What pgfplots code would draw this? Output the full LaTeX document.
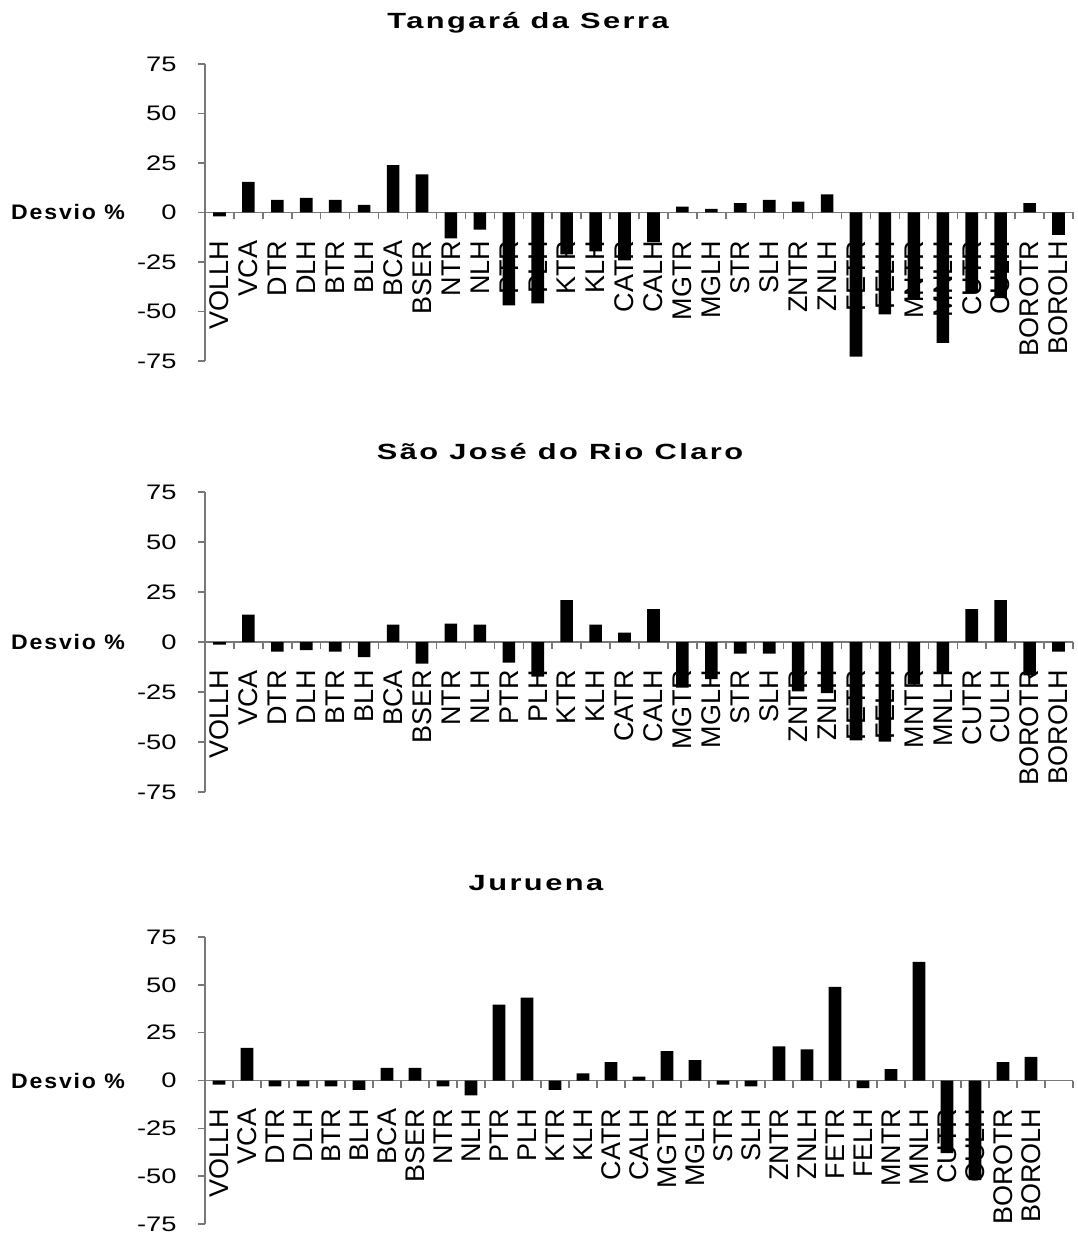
\documentclass[border=0pt]{standalone}
\usepackage{fontspec}
\setmainfont{Liberation Sans}
\newfontfamily\ttlfont[LetterSpace=8]{Liberation Sans}
\newfontfamily\dvfont[LetterSpace=8]{Liberation Sans}
\usepackage{graphicx}
\usepackage{pgfplots}
\usepackage{pgfplotstable}
\pgfplotsset{compat=1.18}

\pgfplotstableread{
i  ts     sj     ju
0  -2.0   -1.3   -2.1
1  15.5   13.7   17.0
2  6.4    -4.8   -3.1
3  7.4    -4.0   -3.1
4  6.4    -4.8   -3.1
5  3.9    -7.5   -4.9
6  23.9   8.7    6.6
7  19.3   -10.8  6.6
8  -13.1  9.2    -3.1
9  -8.7   8.7    -7.7
10 -46.9  -10.3  39.7
11 -45.9  -17.3  43.3
12 -21.2  21.0   -4.9
13 -19.7  8.7    3.8
14 -24.2  4.7    9.6
15 -15.0  16.5   2.1
16 3.0    -22.8  15.3
17 1.8    -18.5  10.6
18 4.7    -5.8   -2.1
19 6.4    -5.8   -3.1
20 5.5    -24.7  17.9
21 9.2    -25.5  16.3
22 -72.8  -49.2  49.0
23 -51.4  -49.8  -4.0
24 -43.2  -21.0  5.9
25 -65.9  -15.8  62.0
26 -40.3  16.5   -37.9
27 -43.2  21.0   -52.0
28 4.7    -16.7  9.6
29 -11.3  -4.8   12.3
}\data

\newcommand\sx[1]{\scalebox{1.3}[1]{#1}}
\definecolor{axgray}{RGB}{120,120,120}

\pgfplotsset{
  panel/.style={
    scale only axis, width=434pt, set layers,
    axis y line=left, axis x line=middle,
    axis line style={-, draw=axgray, line width=0.75pt},
    ymin=-75, ymax=75, enlarge y limits=false,
    xmin=-0.5,
    ytick={-75,-50,-25,0,25,50,75},
    yticklabels={\sx{-75},\sx{-50},\sx{-25},\sx{0},\sx{25},\sx{50},\sx{75}},
    yticklabel style={font=\fontsize{10.5}{12}\selectfont, anchor=east, inner sep=0pt, xshift=-10.5pt},
    major tick length=3.5pt, minor tick length=3.5pt,
    tick align=outside,
    tick style={draw=axgray, line width=0.75pt},
    major x tick style={draw=none},
    xtick={0,...,29},
    xticklabels={VOLLH,VCA,DTR,DLH,BTR,BLH,BCA,BSER,NTR,NLH,PTR,PLH,KTR,KLH,CATR,CALH,MGTR,MGLH,STR,SLH,ZNTR,ZNLH,FETR,FELH,MNTR,MNLH,CUTR,CULH,BOROTR,BOROLH},
    xticklabel style={rotate=90, anchor=east, inner sep=0pt, font=\fontsize{13.5}{14}\selectfont},
    xticklabel shift=10.5pt,
    ybar, bar width=6.3pt,
    every axis y label/.style={at={(axis description cs:0,0.5)}, anchor=east, xshift=-36.5pt, font=\dvfont\bfseries\fontsize{10.5}{12}\selectfont},
    ylabel={\scalebox{1.1}[1]{Desvio \%}},
    title style={at={(axis description cs:0.5,1)}, anchor=base, font=\ttlfont\bfseries\fontsize{11}{13}\selectfont},
  }
}

\begin{document}
\begin{tikzpicture}
\begin{axis}[panel, at={(102.5pt,-32pt)}, anchor=north west, height=148.5pt,
  xmax=29.5, minor xtick={-0.5,0.5,...,29.5},
  title={\scalebox{1.4}[1]{Tangará da Serra}},
  title style={yshift=11.5pt, xshift=-55.5pt}]
\addplot[fill=black, draw=none] table[x=i, y=ts] {\data};
\end{axis}
\begin{axis}[panel, at={(102.5pt,-246pt)}, anchor=north west, height=150pt,
  xmax=29.5, minor xtick={-0.5,0.5,...,29.5},
  title={\scalebox{1.4}[1]{São José do Rio Claro}},
  title style={yshift=10.5pt, xshift=-39.5pt}]
\addplot[fill=black, draw=none] table[x=i, y=sj] {\data};
\end{axis}
\begin{axis}[panel, at={(102.5pt,-468.5pt)}, anchor=north west, height=143.5pt,
  xmax=30.5, minor xtick={-0.5,0.5,...,30.5},
  title={\scalebox{1.4}[1]{Juruena}},
  title style={yshift=17.5pt, xshift=-51.5pt}]
\addplot[fill=black, draw=none] table[x=i, y=ju] {\data};
\end{axis}
\pgfresetboundingbox
\useasboundingbox (0,0) rectangle (538.5pt,-617pt);
\end{tikzpicture}
\end{document}
